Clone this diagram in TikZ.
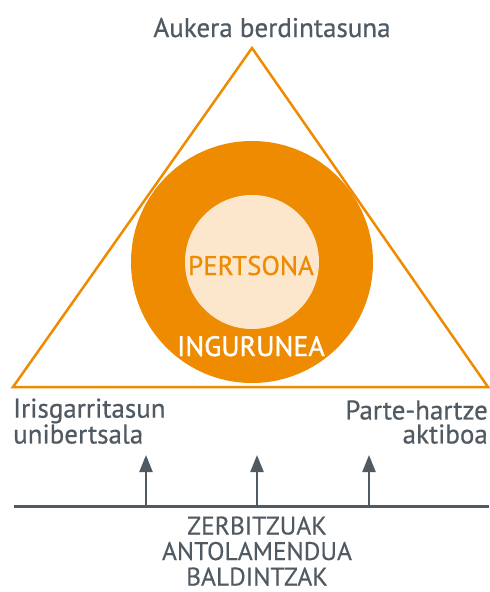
\documentclass[tikz,border=0pt]{standalone}
\usepackage{fontspec}
\setmainfont{PT Sans}
\newfontfamily\lblfont{PT Sans}[FakeBold=0.6]
\newfontfamily\botfont{PT Sans}[FakeBold=0.3]
\newfontfamily\midfont{PT Sans}[FakeBold=1.2]
\usetikzlibrary{arrows.meta}
\definecolor{org}{HTML}{EE8B00}
\definecolor{lorg}{HTML}{FCE6CC}
\definecolor{txt}{HTML}{505A63}
\tikzset{
  lbl/.style={text=txt, font=\lblfont\fontsize{27}{24}\selectfont, inner sep=0pt},
  bot/.style={text=txt, font=\botfont\fontsize{25.5}{25.5}\selectfont, inner sep=0pt, align=center},
  up/.style={draw=txt, line width=2.2pt, -{Triangle[length=17pt,width=13pt]}},
}
\begin{document}
\begin{tikzpicture}[x=1pt,y=-1pt]
\useasboundingbox (0,0) rectangle (490,592);
% triangle
\coordinate (apex) at (252,48);
\coordinate (bl) at (13,387);
\coordinate (br) at (488,387);
\draw[org, line width=2.5pt, line join=miter] (apex) -- (bl) -- (br) -- cycle;
% circles
\node[circle, fill=org, minimum size=242pt, inner sep=0pt] (ing) at (252,262) {};
\node[circle, fill=lorg, minimum size=134pt, inner sep=0pt] (pers) at (252,262) {};
\node[text=org, font=\lblfont\fontsize{27}{28}\selectfont, anchor=base, inner sep=0pt] (perslbl) at (251,275) {PERTSONA};
\node[text=white, font=\midfont\fontsize{28}{30}\selectfont, anchor=base, inner sep=0pt] (inglbl) at (251,356) {INGURUNEA};
% labels
\node[lbl, anchor=base] (top) at (272,37) {Aukera berdintasuna};
\node[lbl, align=left, anchor=south west] (left) at (13,444) {Irisgarritasun\\unibertsala};
\node[lbl, align=right, anchor=south east] (right) at (488,444) {Parte-hartze\\aktiboa};
% base line and arrows
\coordinate (lineL) at (14,506);
\coordinate (lineR) at (489,506);
\draw[txt, line width=3pt] (lineL) -- (lineR);
\coordinate (a1) at (146,506); \coordinate (t1) at (146,455);
\coordinate (a2) at (257,506); \coordinate (t2) at (257,455);
\coordinate (a3) at (369,506); \coordinate (t3) at (369,455);
\draw[up] (a1) -- (t1);
\draw[up] (a2) -- (t2);
\draw[up] (a3) -- (t3);
% bottom text
\node[bot, anchor=south] (bottomtext) at (257,586) {ZERBITZUAK\\ANTOLAMENDUA\\BALDINTZAK};
\end{tikzpicture}
\end{document}
